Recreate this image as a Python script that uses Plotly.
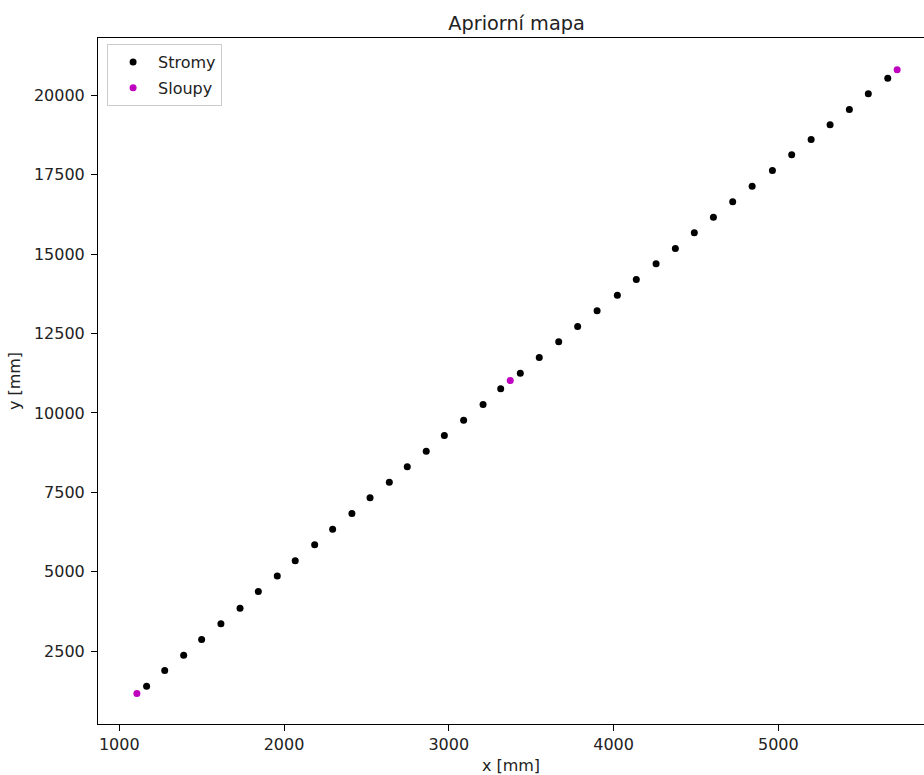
import plotly.graph_objects as go

# Stromy (trees)
stromy_x = [1166, 1276, 1391, 1500, 1617, 1733, 1844, 1959, 2068, 2186,
            2295, 2412, 2522, 2639, 2748, 2863, 2973, 3090, 3208, 3315,
            3434, 3549, 3667, 3782, 3900, 4023, 4138, 4258, 4375, 4490,
            4606, 4723, 4841, 4964, 5081, 5199, 5314, 5431, 5546, 5664]
stromy_y = [1393, 1888, 2369, 2864, 3359, 3850, 4376, 4864, 5343, 5847,
            6338, 6833, 7328, 7819, 8304, 8795, 9290, 9772, 10266, 10761,
            11252, 11747, 12242, 12723, 13218, 13709, 14204, 14699, 15180, 15675,
            16166, 16652, 17143, 17637, 18132, 18614, 19077, 19559, 20054, 20545]

# Sloupy (poles)
sloupy_x = [1107, 3373, 5721]
sloupy_y = [1163, 11022, 20810]

x_ticks = [1000, 2000, 3000, 4000, 5000]
y_ticks = [2500, 5000, 7500, 10000, 12500, 15000, 17500, 20000]

FONT = "DejaVu Sans"
FS = 16
TXT = "#222222"

fig = go.Figure()
fig.add_trace(go.Scatter(x=stromy_x, y=stromy_y, mode="markers", name="Stromy",
                         legendgroup="a",
                         marker=dict(color="black", size=7, line=dict(width=0))))
fig.add_trace(go.Scatter(x=sloupy_x, y=sloupy_y, mode="markers", name="Sloupy",
                         legendgroup="b",
                         marker=dict(color="#bf00bf", size=7, line=dict(width=0))))

axis_common = dict(showgrid=False, zeroline=False, showline=True, linecolor="black",
                   linewidth=1, ticks="outside", ticklen=6, tickwidth=1, tickcolor="black",
                   tickformat="d", automargin=False,
                   tickfont=dict(family=FONT, size=FS, color=TXT))

fig.update_layout(
    width=924, height=775,
    margin=dict(l=98, r=0, t=38, b=51),
    paper_bgcolor="white", plot_bgcolor="white",
    font=dict(family=FONT, size=FS, color=TXT),
    title=dict(text="Apriorní mapa", x=0.5067, xref="paper", xanchor="center",
               y=1 - 23 / 775, yref="container", yanchor="middle",
               font=dict(family=FONT, size=19.3, color=TXT)),
    xaxis=dict(range=[871, 5884], tickvals=x_ticks, mirror=True,
               title=dict(text="x [mm]", standoff=8,
                          font=dict(family=FONT, size=FS, color=TXT)),
               **axis_common),
    yaxis=dict(range=[202, 21811], tickvals=y_ticks, mirror=False,
               ticklabelstandoff=3,
               title=dict(text="y [mm]", standoff=9,
                          font=dict(family=FONT, size=FS, color=TXT)),
               **axis_common),
    showlegend=True,
    legend=dict(x=0.011, y=0.991, xanchor="left", yanchor="top",
                bgcolor="rgba(255,255,255,0.8)", bordercolor="#cccccc", borderwidth=1,
                font=dict(family=FONT, size=FS, color=TXT),
                traceorder="grouped", tracegroupgap=2, itemwidth=40),
)

fig.write_html("out.html", config={"displayModeBar": False},
               post_script="document.body.style.margin='0';document.body.style.overflow='hidden';")
